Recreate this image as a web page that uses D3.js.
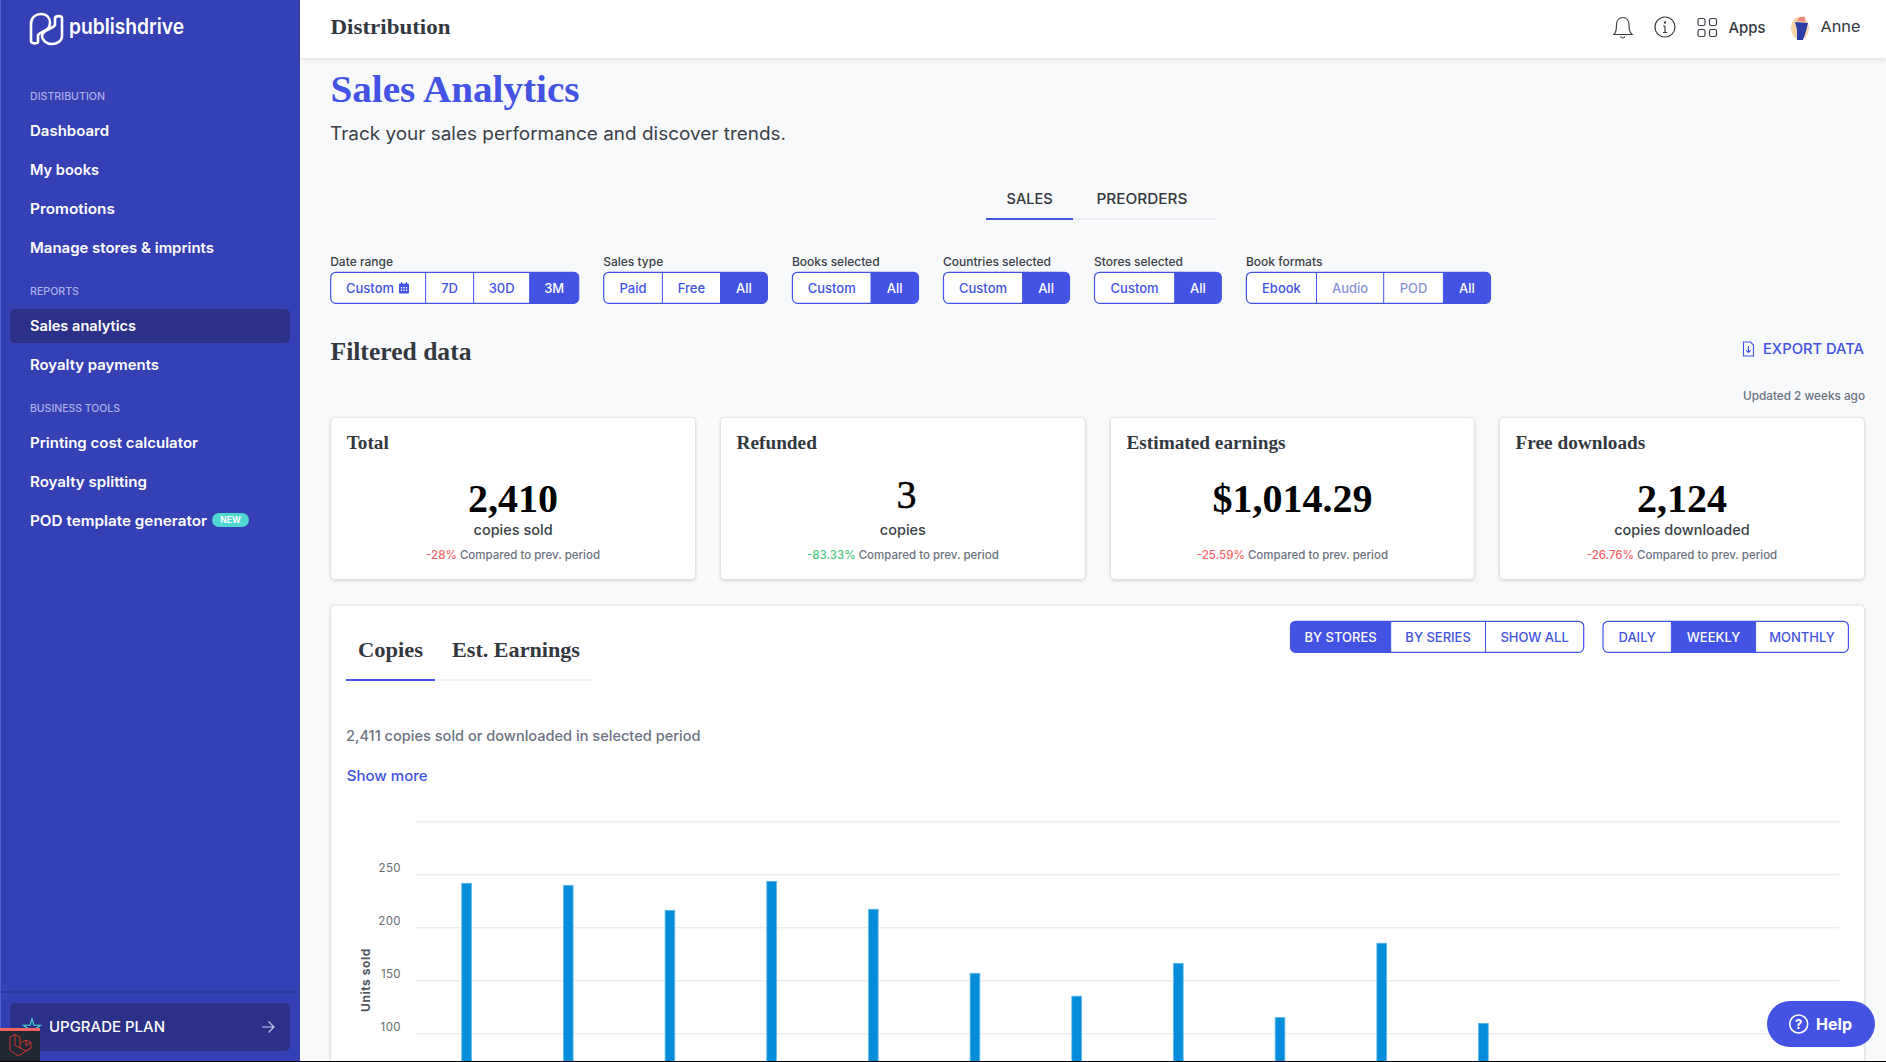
<!DOCTYPE html>
<html>
<head>
<meta charset="utf-8">
<title>Sales Analytics</title>
<script src="https://cdnjs.cloudflare.com/ajax/libs/d3/7.8.5/d3.min.js"></script>
<style>
    html, body { margin: 0; padding: 0; background: #f8f9fb; overflow: hidden; }
    svg { display: block; }
    text { font-family: Inter, "Noto Sans", sans-serif; }
    .serif { font-family: "Liberation Serif", serif; font-weight: 700; }
</style>
</head>
<body>
<svg id="page" width="1886" height="1062"></svg>
<script>
// Chart data
const weeks = ["W1", "W2", "W3", "W4", "W5", "W6", "W7", "W8", "W9", "W10", "W11", "W12", "W13", "W14"];
const unitsSold = [241.5, 239.6, 216, 243.4, 217, 156.6, 135, 166, 115, 185, 109.4];
const yTicks = [100, 150, 200, 250, 300];

// Summary cards
const cardTitles = ["Total", "Refunded", "Estimated earnings", "Free downloads"];
const cardValues = ["2,410", "3", "$1,014.29", "2,124"];
const cardUnits = ["copies sold", "copies", "", "copies downloaded"];
const cardDeltas = ["-28%", "-83.33%", "-25.59%", "-26.76%"];

// Sidebar
const navDistribution = ["Dashboard", "My books", "Promotions", "Manage stores & imprints"];
const navReports = ["Sales analytics", "Royalty payments"];
const navTools = ["Printing cost calculator", "Royalty splitting", "POD template generator"];

// Filter buttons
const filterLabels = ["Date range", "Sales type", "Books selected", "Countries selected", "Stores selected", "Book formats"];
const filterButtons = [
    ["Custom", "7D", "30D", "3M"],
    ["Paid", "Free", "All"],
    ["Custom", "All"],
    ["Custom", "All"],
    ["Custom", "All"],
    ["Ebook", "Audio", "POD", "All"]
];
const chartGroupButtons = ["BY STORES", "BY SERIES", "SHOW ALL"];
const chartPeriodButtons = ["DAILY", "WEEKLY", "MONTHLY"];

const BLUE = "#4353e3";
const DARK = "#33383f";
const GREY = "#6b7280";

const svg = d3.select("#page");
const defs = svg.append("defs");

defs.append("filter").attr("id", "cardShadow")
    .attr("x", "-5%").attr("y", "-5%").attr("width", "110%").attr("height", "115%")
    .append("feDropShadow")
    .attr("dx", 0).attr("dy", 1).attr("stdDeviation", 1.2)
    .attr("flood-color", "#000").attr("flood-opacity", 0.16);

defs.append("filter").attr("id", "headShadow")
    .attr("x", "-5%").attr("y", "-20%").attr("width", "110%").attr("height", "160%")
    .append("feDropShadow")
    .attr("dx", 0).attr("dy", 1).attr("stdDeviation", 2.5)
    .attr("flood-color", "#000").attr("flood-opacity", 0.12);

// Text helper. w squeezes or stretches the run to the width measured on the reference
function label(parent, x, y, str, opts = {}) {
    const t = parent.append("text")
        .attr("x", x)
        .attr("y", y)
        .attr("dy", "0.35em")
        .attr("font-size", opts.size || 14)
        .attr("font-weight", opts.weight || 500)
        .attr("fill", opts.fill || DARK)
        .attr("text-anchor", opts.anchor || "start")
        .text(str);
    if (opts.serif) t.attr("class", "serif");
    if (opts.w) t.attr("textLength", opts.w).attr("lengthAdjust", "spacingAndGlyphs");
    return t;
}

// Segmented button group, edges holds the x of every border
function buttonGroup(edges, top, height, labels, activeIndex, mutedIndexes = [], size = 13) {
    const id = "clip" + Math.round(edges[0]) + "-" + Math.round(top);
    const x0 = edges[0];
    const x1 = edges[edges.length - 1];
    defs.append("clipPath").attr("id", id)
        .append("rect")
        .attr("x", x0).attr("y", top)
        .attr("width", x1 - x0).attr("height", height)
        .attr("rx", 5);

    const g = svg.append("g");
    g.append("rect")
        .attr("x", x0).attr("y", top)
        .attr("width", x1 - x0).attr("height", height)
        .attr("rx", 5)
        .attr("fill", "#fff");

    g.append("rect")
        .attr("clip-path", `url(#${id})`)
        .attr("x", edges[activeIndex]).attr("y", top)
        .attr("width", edges[activeIndex + 1] - edges[activeIndex]).attr("height", height)
        .attr("fill", BLUE);

    g.append("rect")
        .attr("x", x0).attr("y", top)
        .attr("width", x1 - x0).attr("height", height)
        .attr("rx", 5)
        .attr("fill", "none")
        .attr("stroke", BLUE)
        .attr("stroke-width", 1.2);

    edges.slice(1, -1).forEach((e) => {
        g.append("line")
            .attr("x1", e).attr("x2", e)
            .attr("y1", top).attr("y2", top + height)
            .attr("stroke", BLUE)
            .attr("stroke-width", 1);
    });

    labels.forEach((d, i) => {
        const muted = mutedIndexes.includes(i);
        const fill = i === activeIndex ? "#fff" : muted ? "#8c93d8" : BLUE;
        label(g, (edges[i] + edges[i + 1]) / 2, top + height / 2 + 1, d, {
            size: size, weight: 500, fill: fill, anchor: "middle"
        });
    });
    return g;
}

// ---- Sidebar ----
const side = svg.append("g");
side.append("rect").attr("width", 300).attr("height", 1062).attr("fill", "#3540b4");
side.append("rect").attr("width", 1).attr("height", 1062).attr("fill", "#5560c8");

// Logo
side.selectAll("path.logo")
    .data([
        "M31 24 C31 17 36 14 41 14 C47 14 50 18 50 23 C50 31 41 31 38 35 V42 C38 44 31 44 31 41 Z",
        "M62 36 C62 41 57 44 52 44 C46 44 42 40 42 36 C42 29 52 30 55 25 V18 C55 16 62 15 62 18 Z"
    ])
    .enter()
    .append("path")
    .attr("class", "logo")
    .attr("d", (d) => d)
    .attr("fill", "none")
    .attr("stroke", "#fff")
    .attr("stroke-width", 2.6);
label(side, 69, 27, "publishdrive", { size: 21, weight: 600, fill: "#fff", w: 115 });

const sectionStyle = { size: 10.5, weight: 500, fill: "#aab1ec" };
label(side, 30, 96, "DISTRIBUTION", { ...sectionStyle, w: 75 });
label(side, 30, 291, "REPORTS", { ...sectionStyle, w: 49 });
label(side, 30, 408, "BUSINESS TOOLS", { ...sectionStyle, w: 90 });

side.append("rect")
    .attr("x", 10).attr("y", 309)
    .attr("width", 280).attr("height", 34)
    .attr("rx", 5)
    .attr("fill", "#2b3088");

const navStyle = { size: 14.5, weight: 600, fill: "#fff" };
const navWidths = [79, 69, 85, 184];
navDistribution.forEach((d, i) => {
    label(side, 30, 131 + i * 39, d, { ...navStyle, w: navWidths[i] });
});
label(side, 30, 326, navReports[0], { ...navStyle, w: 106 });
label(side, 30, 365, navReports[1], { ...navStyle, w: 129 });
const toolWidths = [168, 117, 177];
navTools.forEach((d, i) => {
    label(side, 30, 443 + i * 39, d, { ...navStyle, w: toolWidths[i] });
});

side.append("rect")
    .attr("x", 212).attr("y", 513)
    .attr("width", 37).attr("height", 14)
    .attr("rx", 7)
    .attr("fill", "#4fd8d0");
label(side, 230.5, 520, "NEW", { size: 8.5, weight: 700, fill: "#fff", anchor: "middle" });

// Upgrade box
side.append("line")
    .attr("x1", 0).attr("x2", 300)
    .attr("y1", 992).attr("y2", 992)
    .attr("stroke", "#2b3088");
side.append("rect")
    .attr("x", 10).attr("y", 1003)
    .attr("width", 280).attr("height", 48)
    .attr("rx", 5)
    .attr("fill", "#2b3088");
side.append("path")
    .attr("d", d3.symbol().type(d3.symbolStar).size(90)())
    .attr("transform", "translate(32,1028)")
    .attr("fill", "none")
    .attr("stroke", "#4fd8d0")
    .attr("stroke-width", 1.2);
label(side, 49, 1027, "UPGRADE PLAN", { size: 14.5, weight: 500, fill: "#fff", w: 116 });
side.append("path")
    .attr("d", "M262 1027 H274 M268.5 1021.5 L274 1027 L268.5 1032.5")
    .attr("fill", "none")
    .attr("stroke", "#c9cdf2")
    .attr("stroke-width", 1.1);

// ---- Header ----
svg.append("rect")
    .attr("x", 300).attr("y", 0)
    .attr("width", 1586).attr("height", 58)
    .attr("fill", "#fff")
    .attr("filter", "url(#headShadow)");
label(svg, 330.5, 26.5, "Distribution", { size: 22, serif: true, w: 120 });

const icons = svg.append("g")
    .attr("fill", "none")
    .attr("stroke", "#3a3f47")
    .attr("stroke-width", 1.2);
icons.append("path")
    .attr("d", "M1614 34.5 C1616.5 32 1616.5 29 1616.5 25 C1616.5 20.5 1619 17.5 1622.8 17.5 C1626.6 17.5 1629 20.5 1629 25 C1629 29 1629 32 1632 34.5 Z M1620.5 36.5 C1621.5 38.5 1624 38.5 1625 36.5");
icons.append("circle").attr("cx", 1665).attr("cy", 27).attr("r", 10);
icons.append("path").attr("d", "M1665 26 V32.5 M1663 26 H1665 M1663 32.5 H1667");
icons.append("circle").attr("cx", 1665).attr("cy", 22.5).attr("r", 0.6);
[1698, 1709.5].forEach((x) => {
    [18.5, 29.5].forEach((y) => {
        icons.append("rect")
            .attr("x", x).attr("y", y)
            .attr("width", 7).attr("height", 7)
            .attr("rx", 1.8);
    });
});
label(svg, 1728.5, 28, "Apps", { size: 15, weight: 500, w: 37 });
label(svg, 1820.5, 27, "Anne", { size: 15, weight: 400, w: 40 });

// Avatar
svg.append("ellipse")
    .attr("cx", 1800).attr("cy", 28)
    .attr("rx", 9).attr("ry", 11.5)
    .attr("fill", "#f6d3a8");
svg.append("path")
    .attr("d", "M1795 22 L1808 23 L1806 31 L1803 40 L1797 40 L1797 30 Z")
    .attr("fill", "#2b3ea8");
svg.append("path")
    .attr("d", "M1797 21 C1798 17 1802 16 1805 17 L1805 22 Z")
    .attr("fill", "#e8877a");

// ---- Title block ----
label(svg, 330.5, 89, "Sales Analytics", { size: 38, serif: true, fill: BLUE, w: 249 });
label(svg, 330, 134, "Track your sales performance and discover trends.", { size: 18, weight: 400, fill: "#3a3f47", w: 456 });

// Tabs
svg.append("line").attr("x1", 986).attr("x2", 1216).attr("y1", 219).attr("y2", 219).attr("stroke", "#dfe1e6").attr("stroke-width", 1);
svg.append("line").attr("x1", 986).attr("x2", 1073).attr("y1", 219).attr("y2", 219).attr("stroke", BLUE).attr("stroke-width", 2);
label(svg, 1029.6, 199, "SALES", { size: 14.5, weight: 500, anchor: "middle", w: 46 });
label(svg, 1142, 199, "PREORDERS", { size: 14.5, weight: 500, anchor: "middle", w: 91 });

// Filters
const filterEdges = [
    [330.7, 425.6, 473.6, 529.7, 578.7],
    [603.7, 662.4, 720.5, 767.4],
    [792.4, 871, 918.5],
    [943.5, 1022.6, 1069.5],
    [1094.5, 1174.7, 1221.3],
    [1246.4, 1316.5, 1383.7, 1443.4, 1490.5]
];
filterLabels.forEach((d, i) => {
    label(svg, filterEdges[i][0] - 0.5, 262, d, { size: 12, weight: 500, fill: "#3a3f47" });
    const muted = d === "Book formats" ? [1, 2] : [];
    const group = buttonGroup(filterEdges[i], 272.3, 31, filterButtons[i], filterButtons[i].length - 1, muted);
    // The custom date button shares its cell with a calendar glyph
    if (d === "Date range") {
        group.select("text").attr("x", 346).attr("text-anchor", "start");
    }
});

// Calendar glyph on the custom date button
const cal = svg.append("g").attr("fill", BLUE);
cal.append("rect").attr("x", 399).attr("y", 283.5).attr("width", 10).attr("height", 10).attr("rx", 1);
[401.5, 404, 406.5].forEach((x) => {
    [287, 289.5].forEach((y) => {
        cal.append("rect").attr("x", x - 0.7).attr("y", y).attr("width", 1.4).attr("height", 1.4).attr("fill", "#fff");
    });
});
cal.append("rect").attr("x", 401).attr("y", 282).attr("width", 1).attr("height", 2.5);
cal.append("rect").attr("x", 406).attr("y", 282).attr("width", 1).attr("height", 2.5);

// Filtered data row
label(svg, 330.5, 351.5, "Filtered data", { size: 25, serif: true, w: 141 });
svg.append("path")
    .attr("d", "M1743.5 342 H1750.5 L1753.5 345 V356 H1743.5 Z M1748.5 346 V352.5 M1746.2 350.2 L1748.5 352.5 L1750.8 350.2")
    .attr("fill", "none")
    .attr("stroke", BLUE)
    .attr("stroke-width", 1.1);
label(svg, 1763, 349, "EXPORT DATA", { size: 14.5, weight: 500, fill: BLUE, w: 101 });
label(svg, 1865, 396, "Updated 2 weeks ago", { size: 12, weight: 500, fill: GREY, anchor: "end", w: 122 });

// ---- Cards ----
const cardEdges = [[330.7, 695.5], [720.5, 1085.3], [1110.5, 1474.4], [1499.5, 1864.4]];
cardTitles.forEach((title, i) => {
    const [x0, x1] = cardEdges[i];
    const mid = (x0 + x1) / 2;
    const g = svg.append("g");
    g.append("rect")
        .attr("x", x0).attr("y", 417.3)
        .attr("width", x1 - x0).attr("height", 162)
        .attr("rx", 4)
        .attr("fill", "#fff")
        .attr("stroke", "#e3e4e7")
        .attr("filter", "url(#cardShadow)");
    label(g, x0 + 16, 442.5, title, { size: 19.3, serif: true });

    // The refunded count is set lighter and a little higher on the reference
    const small = cardValues[i] === "3";
    const value = label(g, small ? mid + 3.5 : mid, small ? 494 : 498, cardValues[i], {
        size: 40, serif: true, fill: "#000", anchor: "middle"
    });
    if (small) {
        value.style("font-weight", 400).attr("stroke", "#000").attr("stroke-width", 0.5);
    }
    if (cardUnits[i]) {
        label(g, mid, 530, cardUnits[i], { size: 14.5, weight: 500, fill: "#3a3f47", anchor: "middle" });
    }
    const delta = label(g, mid, 555, "", { size: 11.5, weight: 500, fill: GREY, anchor: "middle" });
    delta.append("tspan")
        .attr("fill", cardDeltas[i] === "-83.33%" ? "#4cc77f" : "#f56565")
        .text(cardDeltas[i]);
    delta.append("tspan").text(" Compared to prev. period");
});

// ---- Chart panel ----
svg.append("rect")
    .attr("x", 330.7).attr("y", 605)
    .attr("width", 1533.7).attr("height", 500)
    .attr("rx", 4)
    .attr("fill", "#fff")
    .attr("stroke", "#e3e4e7")
    .attr("filter", "url(#cardShadow)");

label(svg, 358, 649.5, "Copies", { size: 22, serif: true, w: 65 });
label(svg, 452, 649.5, "Est. Earnings", { size: 22, serif: true, w: 128 });
svg.append("line").attr("x1", 346).attr("x2", 593).attr("y1", 680).attr("y2", 680).attr("stroke", "#e3e6ea").attr("stroke-width", 1);
svg.append("line").attr("x1", 346).attr("x2", 435).attr("y1", 680).attr("y2", 680).attr("stroke", BLUE).attr("stroke-width", 2);

buttonGroup([1290.5, 1390.7, 1485.5, 1583.7], 621.3, 31, chartGroupButtons, 0);
buttonGroup([1603, 1671.4, 1755.6, 1848.4], 621.3, 31, chartPeriodButtons, 1);

label(svg, 346, 736, "2,411 copies sold or downloaded in selected period", { size: 14.5, weight: 500, fill: GREY, w: 354.5 });
label(svg, 346.7, 776, "Show more", { size: 14.5, weight: 500, fill: BLUE, w: 81 });

// Scales, the zero line sits below the photographed part of the page
const xScale = d3.scaleBand()
    .domain(weeks)
    .range([416, 1839])
    .paddingInner(0.905)
    .paddingOuter(0.45);

const yScale = d3.scaleLinear()
    .domain([0, 300])
    .range([1139.3, 821.3]);

const yAxis = d3.axisLeft(yScale)
    .tickValues(yTicks)
    .tickSize(-(1839 - 416))
    .tickPadding(15)
    .tickFormat((d) => (d === 300 ? "" : d));

const axisG = svg.append("g")
    .attr("transform", "translate(416,0)")
    .call(yAxis);
axisG.select(".domain").remove();
axisG.selectAll(".tick line").attr("stroke", "#e4e6e9");
axisG.selectAll(".tick text")
    .attr("dy", "-0.22em")
    .attr("font-size", 11.5)
    .attr("font-weight", 400)
    .attr("letter-spacing", "0.4px")
    .attr("fill", "#6a6e74");

svg.append("text")
    .attr("transform", "translate(365.5,980) rotate(-90)")
    .attr("text-anchor", "middle")
    .attr("dy", "0.35em")
    .attr("font-size", 12)
    .attr("font-weight", 700)
    .attr("letter-spacing", "0.55px")
    .attr("fill", "#54585e")
    .text("Units sold");

svg.selectAll("rect.bar")
    .data(unitsSold)
    .enter()
    .append("rect")
    .attr("class", "bar")
    .attr("x", (d, i) => xScale(weeks[i]))
    .attr("y", (d) => yScale(d))
    .attr("width", xScale.bandwidth())
    .attr("height", (d) => yScale(0) - yScale(d))
    .attr("fill", "#058dda")
    .attr("stroke", "#5db7ea")
    .attr("stroke-width", 0.8);

// ---- Help button ----
svg.append("rect")
    .attr("x", 1767).attr("y", 1001)
    .attr("width", 108).attr("height", 46)
    .attr("rx", 23)
    .attr("fill", BLUE);
svg.append("circle")
    .attr("cx", 1798.7).attr("cy", 1024)
    .attr("r", 9)
    .attr("fill", "none")
    .attr("stroke", "#fff")
    .attr("stroke-width", 1.6);
label(svg, 1798.7, 1024, "?", { size: 13, weight: 700, fill: "#fff", anchor: "middle" });
label(svg, 1816, 1024, "Help", { size: 16.5, weight: 700, fill: "#fff", w: 36 });

// ---- Debug bar badge ----
const badge = svg.append("g");
badge.append("rect").attr("x", 0).attr("y", 1028).attr("width", 40).attr("height", 34).attr("fill", "#1f2733");
badge.append("rect").attr("x", 0).attr("y", 1028).attr("width", 40).attr("height", 3).attr("fill", "#f4645f");
badge.append("path")
    .attr("d", "M10 1037 L15 1034.5 L20 1037 V1048 L26 1051 L31 1048 V1042.5 L26 1040 L21 1042.5 M20 1048 L15 1045.5 M10 1037 V1050 L18 1056 L31 1048 M15 1034.5 V1045.5 M26 1040 V1045.5 L31 1042.5")
    .attr("fill", "none")
    .attr("stroke", "#e0362c")
    .attr("stroke-width", 0.9);

svg.append("rect").attr("x", 0).attr("y", 1061).attr("width", 1886).attr("height", 1).attr("fill", "#000");
</script>
</body>
</html>
